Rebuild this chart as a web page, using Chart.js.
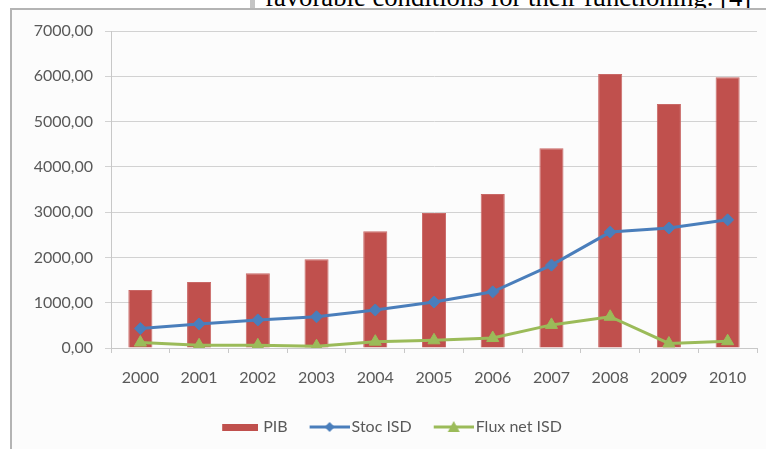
<!DOCTYPE html>
<html>
<head>
  <title>PIB si ISD</title>
  <script src="https://cdn.jsdelivr.net/npm/chart.js"></script>
  <style>
    html, body { margin: 0; overflow: hidden; }
    body { width: 766px; height: 449px; background: #fff; position: relative; }
    #topText { position: absolute; left: 265px; top: -16px; font: 26.7px "Liberation Serif", serif; line-height: 26.7px; color: #000; white-space: nowrap; }
    #topBar { position: absolute; left: 250px; top: 0; width: 5px; height: 9px; background: #c4c4c4; }
    #frame { position: absolute; left: 10px; top: 8px; width: 756px; height: 441px; border-left: 2px solid #b4b4b4; border-top: 2px solid #b4b4b4; background: #fcfcfc; }
    #wrap { position: absolute; left: 0; top: 0; width: 766px; height: 449px; }
  </style>
</head>
<body>
  <div id="topText">favorable conditions for their functioning. [4]</div>
  <div id="topBar"></div>
  <div id="frame"></div>
  <div id="wrap"><canvas id="chart"></canvas></div>

<script>
  // values
  const years = ['2000', '2001', '2002', '2003', '2004', '2005', '2006', '2007', '2008', '2009', '2010'];
  const pib = [1280, 1460, 1650, 1960, 2580, 2980, 3400, 4410, 6050, 5390, 5980];
  const stocIsd = [430, 530, 620, 690, 840, 1015, 1240, 1830, 2560, 2650, 2830];
  const fluxIsd = [120, 60, 60, 40, 140, 170, 220, 510, 690, 100, 150];
  const seriesNames = ['PIB', 'Stoc ISD', 'Flux net ISD'];

  const red = '#C0504D';
  const blue = '#4A7EBB';
  const green = '#9BBB59';

  // small legend pictures: a bar swatch and line+marker keys like Excel
  // (drawn to the right of a wider canvas so the label sits close to the key)
  function swatch(color) {
    const c = document.createElement('canvas');
    c.width = 46; c.height = 7;
    const g = c.getContext('2d');
    g.fillStyle = color;
    g.fillRect(10, 0, 36, 7);
    return c;
  }
  function lineKey(color, marker) {
    const c = document.createElement('canvas');
    c.width = 52; c.height = 14;
    const g = c.getContext('2d');
    g.strokeStyle = color;
    g.lineWidth = 3;
    g.beginPath(); g.moveTo(12, 7); g.lineTo(52, 7); g.stroke();
    g.fillStyle = color;
    g.beginPath();
    if (marker === 'diamond') {
      g.moveTo(32, 2); g.lineTo(37, 7); g.lineTo(32, 12); g.lineTo(27, 7);
    } else {
      g.moveTo(32, 1); g.lineTo(38, 12); g.lineTo(26, 12);
    }
    g.closePath(); g.fill();
    return c;
  }
  const keys = [swatch(red), lineKey(blue, 'diamond'), lineKey(green, 'triangle')];

  const fontFam = 'Lato, "Open Sans", sans-serif';

  new Chart(document.getElementById('chart'), {
    type: 'bar',
    data: {
      labels: years,
      datasets: [
        {
          label: seriesNames[0],
          data: pib,
          backgroundColor: red,
          borderColor: '#c96866',
          borderWidth: 1,
          categoryPercentage: 1,
          barPercentage: 0.41,
          order: 3
        },
        {
          type: 'line',
          label: seriesNames[1],
          data: stocIsd,
          borderColor: blue,
          backgroundColor: blue,
          borderWidth: 3,
          pointStyle: 'rectRot',
          pointRadius: 6,
          pointBorderWidth: 1,
          tension: 0,
          order: 2
        },
        {
          type: 'line',
          label: seriesNames[2],
          data: fluxIsd,
          borderColor: green,
          backgroundColor: green,
          borderWidth: 3,
          pointStyle: 'triangle',
          pointRadius: 7,
          pointBorderWidth: 1,
          tension: 0,
          order: 1
        }
      ]
    },
    options: {
      responsive: true,
      maintainAspectRatio: false,
      animation: false,
      layout: { padding: { left: 20, right: 9, top: 31, bottom: 4 } },
      scales: {
        x: {
          grid: { display: true, drawOnChartArea: false, drawTicks: true, tickLength: 5, color: '#c8c8c8', offset: true },
          border: { color: '#c8c8c8' },
          ticks: { color: '#595959', font: { family: fontFam, size: 16 }, padding: 15, maxRotation: 0 },
          afterFit: s => { s.height = 55; }
        },
        y: {
          min: 0,
          max: 7000,
          grid: { color: '#d2d2d2', tickLength: 6 },
          border: { color: '#c8c8c8' },
          ticks: {
            stepSize: 1000,
            color: '#595959',
            font: { family: fontFam, size: 16 },
            padding: 12,
            callback: v => v.toFixed(2).replace('.', ',')
          },
          afterFit: s => { s.width = 91; }
        }
      },
      plugins: {
        tooltip: { enabled: false },
        legend: {
          position: 'bottom',
          labels: {
            usePointStyle: true,
            pointStyleWidth: 40,
            padding: 16,
            color: '#595959',
            font: { family: fontFam, size: 16 },
            generateLabels: chart => seriesNames.map((name, i) => ({
              text: name,
              pointStyle: keys[i],
              fillStyle: 'transparent',
              strokeStyle: 'transparent',
              lineWidth: 0,
              fontColor: '#595959',
              datasetIndex: i
            }))
          }
        }
      }
    }
  });
</script>
</body>
</html>
